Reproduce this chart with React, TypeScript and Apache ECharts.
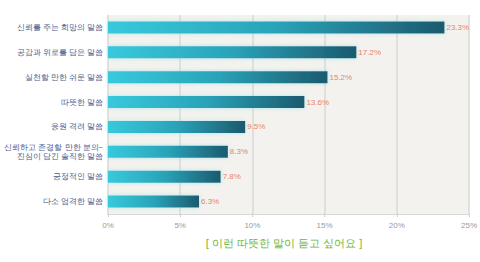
import React, { useEffect, useRef } from "react";
import * as echarts from "echarts";

const categories = [
  "신뢰를 주는 희망의 말씀",
  "공감과 위로를 담은 말씀",
  "실천할 만한 쉬운 말씀",
  "따뜻한 말씀",
  "응원 격려 말씀",
  "신뢰하고 존경할 만한 분의~\n진심이 담긴 솔직한 말씀",
  "긍정적인 말씀",
  "다소 엄격한 말씀",
];
const values = [23.3, 17.2, 15.2, 13.6, 9.5, 8.3, 7.8, 6.3];
const xTicks = [0, 5, 10, 15, 20, 25];
const titleText = "[ 이런 따뜻한 말이 듣고 싶어요 ]";

export default function App() {
  const ref = useRef<HTMLDivElement>(null);
  useEffect(() => {
    if (!ref.current) return;
    const chart = echarts.init(ref.current, undefined, { renderer: "svg" });
    chart.setOption({
      animation: false,
      backgroundColor: "#ffffff",
      grid: {
        left: 108,
        right: 8,
        top: 15,
        bottom: 48,
        show: true,
        backgroundColor: "#f3f2ee",
        borderWidth: 0,
      },
      xAxis: {
        type: "value",
        min: xTicks[0],
        max: xTicks[xTicks.length - 1],
        interval: 5,
        axisLabel: {
          formatter: "{value}%",
          fontSize: 8,
          color: "#9a9a9a",
          margin: 7,
        },
        axisLine: { show: true, lineStyle: { color: "#d8d8d8" } },
        axisTick: { show: true, length: 3, lineStyle: { color: "#cfcfcf" } },
        splitLine: { show: true, lineStyle: { color: "#d9d9d9", width: 1.5 } },
      },
      yAxis: {
        type: "category",
        data: categories,
        inverse: true,
        axisLine: { show: false },
        axisTick: { show: false },
        axisLabel: {
          fontSize: 7.5,
          color: "#4a5a8c",
          margin: 5,
          lineHeight: 9,
        },
      },
      series: [
        {
          type: "bar",
          data: values,
          barWidth: 12,
          itemStyle: {
            color: new echarts.graphic.LinearGradient(0, 0, 1, 0, [
              { offset: 0, color: "#38c9dc" },
              { offset: 0.5, color: "#2aa3b8" },
              { offset: 1, color: "#1c5a6f" },
            ]),
            shadowColor: "rgba(120, 220, 235, 0.55)",
            shadowBlur: 4,
          },
          label: {
            show: true,
            position: "right",
            distance: 2,
            formatter: "{c}%",
            fontSize: 8,
            color: "#e8866a",
          },
        },
      ],
      graphic: [
        {
          type: "text",
          x: 284,
          y: 243,
          style: {
            text: titleText,
            fill: "#6fb53a",
            fontSize: 11,
            align: "center",
            verticalAlign: "middle",
          },
        },
      ],
    });
    return () => chart.dispose();
  }, []);
  return (
    <div
      ref={ref}
      style={{ position: "fixed", left: 0, top: 0, width: 480, height: 262 }}
    />
  );
}
